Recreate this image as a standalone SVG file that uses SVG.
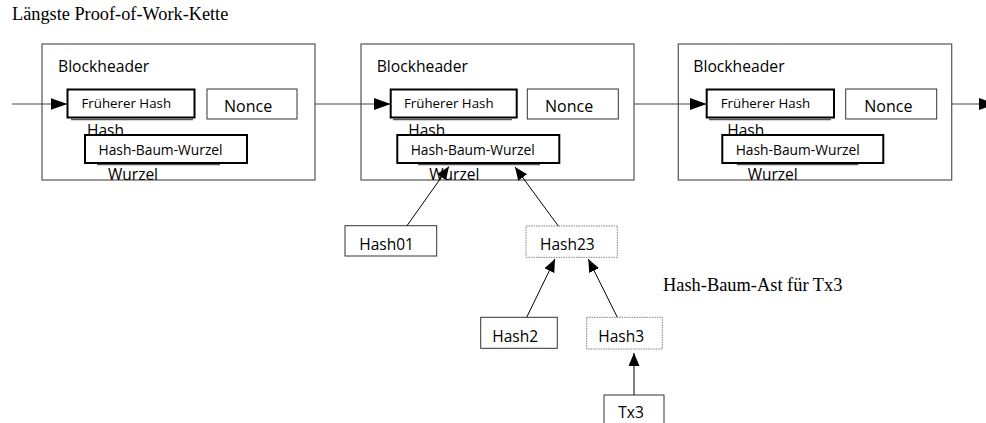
<svg xmlns="http://www.w3.org/2000/svg" width="986" height="423" viewBox="0 0 986 423">
<style>
  .bg { fill: #ffffff; }
  .block { fill: #ffffff; stroke: #555555; stroke-width: 1.2; }
  .thick { fill: #ffffff; stroke: #000000; stroke-width: 2; }
  .thin { fill: #ffffff; stroke: #333333; stroke-width: 1; }
  .dotted { fill: #ffffff; stroke: #808080; stroke-width: 1; stroke-dasharray: 1.5 1; }
  .shadow { stroke: #555555; stroke-width: 1.5; fill: none; }
  .sans { font-family: "Open Sans", "Noto Sans", sans-serif; fill: #000000; }
  .serif { font-family: "Liberation Serif", "Times New Roman", serif; fill: #000000; }
  .conn { stroke: #000000; stroke-width: 1; fill: none; marker-end: url(#arrow); }
  .chain { stroke: #444444; stroke-width: 1; fill: none; marker-end: url(#arrowBig); }
</style>
<defs>
  <marker id="arrow" markerUnits="userSpaceOnUse" markerWidth="14" markerHeight="12" refX="13" refY="5.5" orient="auto">
    <path d="M0,0 L13,5.5 L0,11 z" fill="#000000"/>
  </marker>
  <marker id="arrowBig" markerUnits="userSpaceOnUse" markerWidth="18" markerHeight="12" refX="17" refY="6" orient="auto">
    <path d="M0,0 L17,6 L0,12 z" fill="#000000"/>
  </marker>
</defs>
<rect class="bg" x="0" y="0" width="986" height="423"/>

<g id="title">
  <text class="serif" x="12" y="20" font-size="18.3">Längste Proof-of-Work-Kette</text>
</g>
<g id="branch-label">
  <text class="serif" x="663" y="291" font-size="18.4">Hash-Baum-Ast für Tx3</text>
</g>

<g id="block1">
  <rect class="block" x="42" y="44" width="273" height="136"/>
  <text class="sans" x="58" y="72" font-size="15.7">Blockheader</text>
  <line class="shadow" x1="71" y1="119.5" x2="193" y2="119.5"/>
  <rect class="thick" x="67.5" y="89.5" width="127" height="28"/>
  <text class="sans" x="81.5" y="108" font-size="13.3">Früherer Hash</text>
  <rect class="thin" x="207" y="89" width="90" height="30"/>
  <text class="sans" x="224" y="112" font-size="16">Nonce</text>
  <text class="sans" x="87" y="135.5" font-size="15.5">Hash</text>
  <line class="shadow" x1="97" y1="164.5" x2="220" y2="164.5"/>
  <rect class="thick" x="85" y="135" width="162" height="28"/>
  <text class="sans" x="98.5" y="155" font-size="13.8">Hash-Baum-Wurzel</text>
  <text class="sans" x="108" y="179.5" font-size="15.5">Wurzel</text>
</g>

<g id="block2">
  <rect class="block" x="361" y="44" width="273" height="136"/>
  <text class="sans" x="376.7" y="72" font-size="15.7">Blockheader</text>
  <line class="shadow" x1="393" y1="119.5" x2="512" y2="119.5"/>
  <rect class="thick" x="390.7" y="89.5" width="126" height="28"/>
  <text class="sans" x="404" y="108" font-size="13.3">Früherer Hash</text>
  <rect class="thin" x="527.3" y="89" width="91" height="30"/>
  <text class="sans" x="545" y="112" font-size="16">Nonce</text>
  <text class="sans" x="408.3" y="135.5" font-size="15.5">Hash</text>
  <line class="shadow" x1="418" y1="164.5" x2="540" y2="164.5"/>
  <rect class="thick" x="397.3" y="135" width="162" height="28"/>
  <text class="sans" x="410.7" y="155" font-size="13.8">Hash-Baum-Wurzel</text>
  <text class="sans" x="429.3" y="179.5" font-size="15.5">Wurzel</text>
</g>

<g id="block3">
  <rect class="block" x="678.3" y="44" width="273.4" height="136"/>
  <text class="sans" x="693.3" y="72" font-size="15.7">Blockheader</text>
  <line class="shadow" x1="709" y1="119.5" x2="831" y2="119.5"/>
  <rect class="thick" x="706.7" y="89.5" width="127.3" height="28"/>
  <text class="sans" x="720.7" y="108" font-size="13.3">Früherer Hash</text>
  <rect class="thin" x="845.7" y="89" width="91" height="30"/>
  <text class="sans" x="864.3" y="112" font-size="16">Nonce</text>
  <text class="sans" x="727.3" y="135.5" font-size="15.5">Hash</text>
  <line class="shadow" x1="736.7" y1="164.5" x2="858.3" y2="164.5"/>
  <rect class="thick" x="722.3" y="135" width="161" height="28"/>
  <text class="sans" x="735.7" y="155" font-size="13.8">Hash-Baum-Wurzel</text>
  <text class="sans" x="747.7" y="179.5" font-size="15.5">Wurzel</text>
</g>

<g id="hash01">
  <rect class="thin" x="345" y="225.7" width="91.7" height="30.3"/>
  <text class="sans" x="359.3" y="250" font-size="15.5">Hash01</text>
</g>
<g id="hash23">
  <rect class="dotted" x="526" y="226" width="91.3" height="31.3"/>
  <text class="sans" x="540" y="250" font-size="15.5">Hash23</text>
</g>
<g id="hash2">
  <rect class="thin" x="480.7" y="317.3" width="76.6" height="31"/>
  <text class="sans" x="492.3" y="341.7" font-size="15.5">Hash2</text>
</g>
<g id="hash3">
  <rect class="dotted" x="586.7" y="317.3" width="75.6" height="31.7"/>
  <text class="sans" x="598.3" y="341.7" font-size="15.5">Hash3</text>
</g>
<g id="tx3">
  <rect class="thin" x="604" y="395" width="60" height="40"/>
  <text class="sans" x="618.3" y="418" font-size="15.5">Tx3</text>
</g>

<g id="connectors">
  <line class="chain" x1="12" y1="104" x2="67.5" y2="104"/>
  <line class="chain" x1="315" y1="104" x2="390.7" y2="104"/>
  <line class="chain" x1="634" y1="104" x2="706.7" y2="104"/>
  <line class="chain" x1="951.7" y1="104" x2="996" y2="104"/>
  <line class="conn" x1="407" y1="225.7" x2="449" y2="166.5"/>
  <line class="conn" x1="558.3" y1="226" x2="515" y2="167"/>
  <line class="conn" x1="526.7" y1="317.3" x2="555" y2="259"/>
  <line class="conn" x1="617.3" y1="317.3" x2="588.3" y2="259"/>
  <line class="conn" x1="634" y1="395" x2="634" y2="353"/>
</g>
</svg>
